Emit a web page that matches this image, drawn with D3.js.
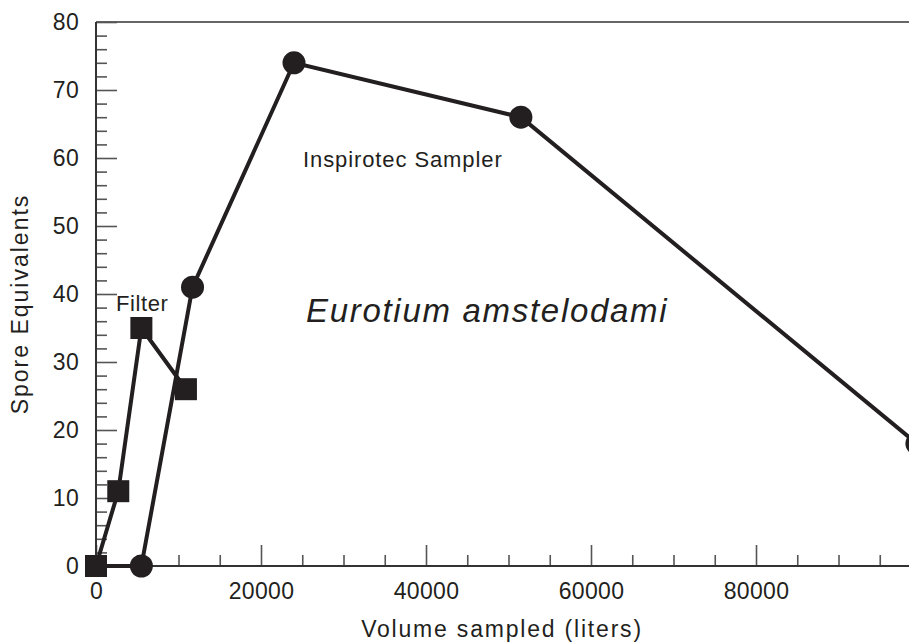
<!DOCTYPE html>
<html><head><meta charset="utf-8">
<script src="https://cdn.jsdelivr.net/npm/d3@7"></script>
<style>
body{margin:0;background:#fff;}
svg{display:block;font-family:"Liberation Sans",Arial,Helvetica,sans-serif;}
</style></head>
<body><svg id="c" width="909" height="644"></svg>
<script>
// Data
const filterX = [0, 2700, 5500, 10900];
const filterY = [0, 11, 35, 26];
const inspX = [0, 5500, 11700, 24000, 51500, 99500];
const inspY = [0, 0, 41, 74, 66, 18];
const yMajorTicks = [0, 10, 20, 30, 40, 50, 60, 70, 80];
const xMajorTicks = [0, 20000, 40000, 60000, 80000];

const svg = d3.select("#c");
const W = 909, H = 644;
const x = d3.scaleLinear().domain([0, 100000]).range([96, 96 + 825]);
const y = d3.scaleLinear().domain([0, 80]).range([566, 22]);

const axisColor = "#333";
const tickColor = "#555";
const ink = "#231f20";

// top frame line
svg.append("line").attr("x1", 96).attr("x2", W).attr("y1", y(80)).attr("y2", y(80))
  .attr("stroke", "#666").attr("stroke-width", 2);

// minor ticks
const yMinor = d3.range(0, 81, 2).filter(v => v % 10 !== 0);
const xMinor = d3.range(0, 100001, 5000).filter(v => v % 20000 !== 0);

const gyMinor = svg.append("g").attr("transform", `translate(${x(0)},0)`)
  .call(d3.axisLeft(y).tickValues(yMinor).tickSize(-11).tickFormat(""));
const gxMinor = svg.append("g").attr("transform", `translate(0,${y(0)})`)
  .call(d3.axisBottom(x).tickValues(xMinor).tickSize(-11).tickFormat(""));

const gy = svg.append("g").attr("transform", `translate(${x(0)},0)`)
  .call(d3.axisLeft(y).tickValues(yMajorTicks).tickSize(-21).tickPadding(17).tickSizeOuter(0));
const gx = svg.append("g").attr("transform", `translate(0,${y(0)})`)
  .call(d3.axisBottom(x).tickValues(xMajorTicks).tickSize(-21).tickPadding(17).tickSizeOuter(0).tickFormat(d3.format("d")));

[gyMinor, gxMinor, gy, gx].forEach(g => {
  g.selectAll(".domain").remove();
  g.selectAll(".tick line").attr("stroke", tickColor).attr("stroke-width", 1.6);
  g.selectAll(".tick text").attr("fill", ink).style("font-size", "23px")
    .style("font-family", "'Liberation Sans',Arial,sans-serif").style("letter-spacing", "0.3px");
});

// axis lines
svg.append("line").attr("x1", x(0)).attr("x2", x(0)).attr("y1", y(80)).attr("y2", y(0))
  .attr("stroke", axisColor).attr("stroke-width", 2);
svg.append("line").attr("x1", x(0)).attr("x2", W).attr("y1", y(0)).attr("y2", y(0))
  .attr("stroke", axisColor).attr("stroke-width", 2);

// lines
const line = d3.line().x(d => x(d[0])).y(d => y(d[1]));
const insp = inspX.map((v, i) => [v, inspY[i]]);
const filt = filterX.map((v, i) => [v, filterY[i]]);

svg.append("path").datum(insp).attr("d", line).attr("fill", "none")
  .attr("stroke", ink).attr("stroke-width", 4);
svg.append("path").datum(filt).attr("d", line).attr("fill", "none")
  .attr("stroke", ink).attr("stroke-width", 4);

svg.append("g").selectAll("circle").data(insp.slice(1)).join("circle")
  .attr("cx", d => x(d[0])).attr("cy", d => y(d[1])).attr("r", 11.5).attr("fill", ink);
const s = 22;
svg.append("g").selectAll("rect").data(filt).join("rect")
  .attr("x", d => x(d[0]) - s / 2).attr("y", d => y(d[1]) - s / 2)
  .attr("width", s).attr("height", s).attr("fill", ink);

// labels
svg.append("text").attr("x", 116).attr("y", 311).text("Filter")
  .style("font-size", "22px").style("letter-spacing", "0.6px").attr("fill", ink);
svg.append("text").attr("x", 303).attr("y", 167).text("Inspirotec Sampler")
  .style("font-size", "22px").style("letter-spacing", "0.9px").attr("fill", ink);
svg.append("text").attr("x", 306).attr("y", 322).text("Eurotium amstelodami")
  .style("font-size", "33px").style("font-style", "italic").style("letter-spacing", "1.7px").attr("fill", ink);

svg.append("text").attr("x", 502).attr("y", 637).attr("text-anchor", "middle")
  .text("Volume sampled (liters)").style("font-size", "23px").style("letter-spacing", "1.8px").attr("fill", ink);
svg.append("text").attr("transform", "translate(28,304) rotate(-90)").attr("text-anchor", "middle")
  .text("Spore Equivalents").style("font-size", "23px").style("letter-spacing", "2px").attr("fill", ink);
</script>
</body></html>
